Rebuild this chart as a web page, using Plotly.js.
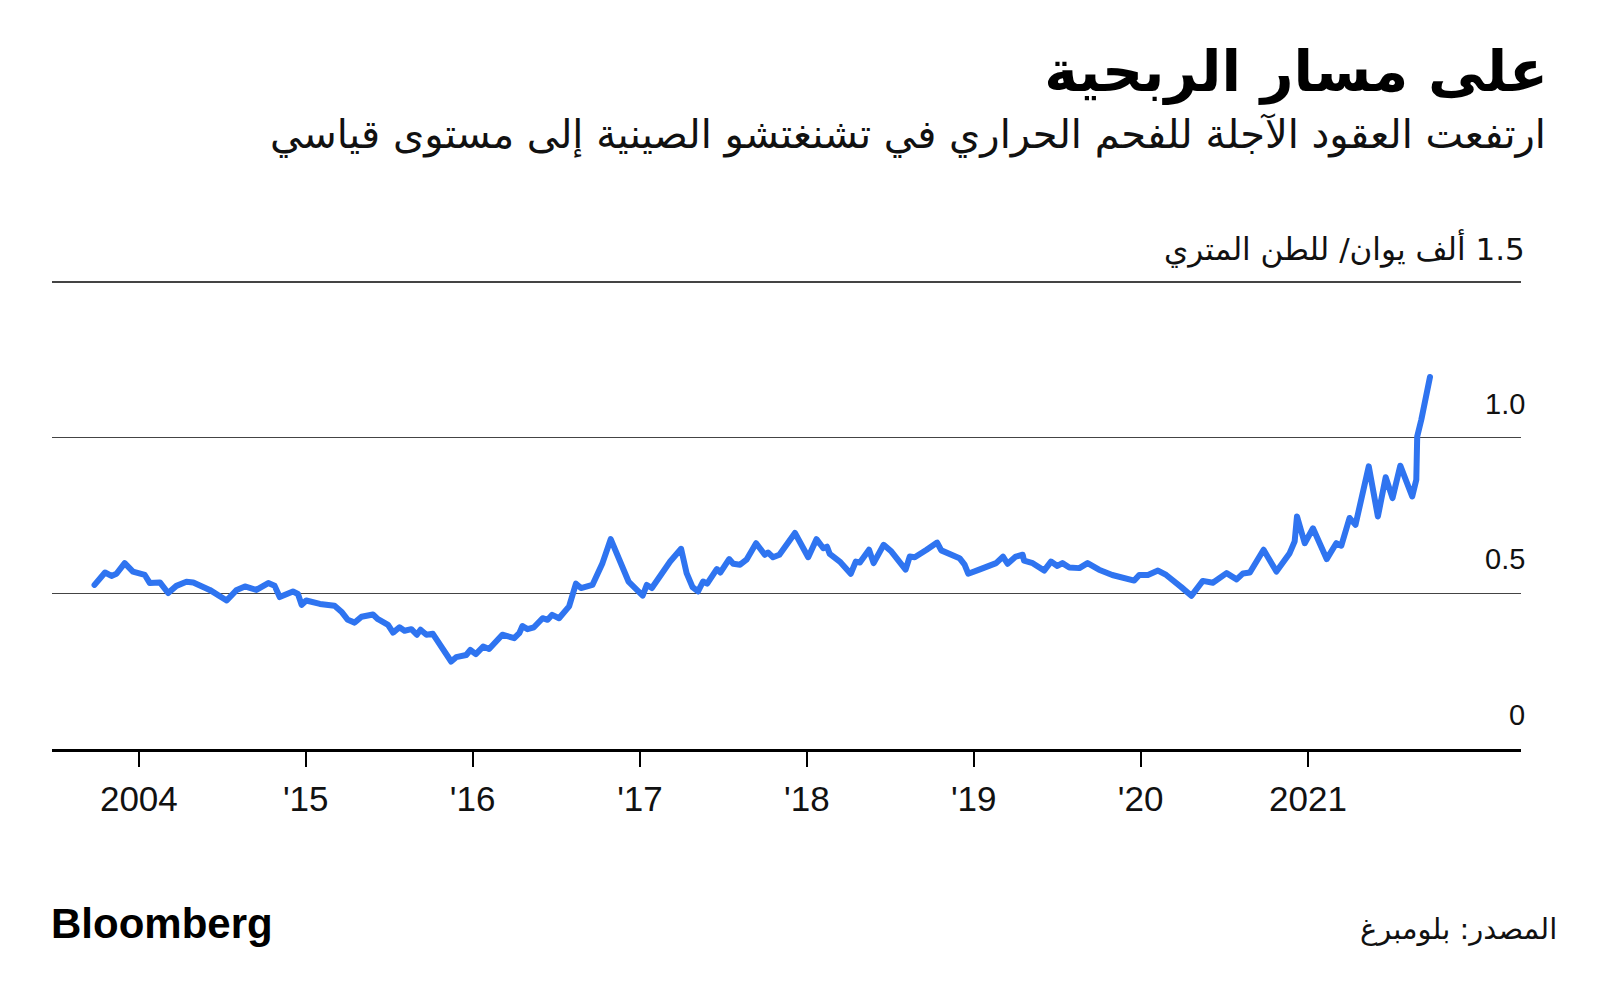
<!DOCTYPE html>
<html>
<head>
<meta charset="utf-8">
<script src="https://cdn.plot.ly/plotly-3.0.1.min.js"></script>
<style>
  html, body { margin: 0; padding: 0; background: #fff; }
  #chart { width: 1600px; height: 1001px; }
  .scatterlayer path.js-line { stroke-linejoin: round; stroke-linecap: round; }
</style>
</head>
<body>
<div id="chart"></div>
<script>
// ---- Data ----
const dates = [
  '2013-09-26','2013-10-19','2013-11-02','2013-11-13','2013-12-01','2013-12-19',
  '2014-01-14','2014-01-25','2014-02-16','2014-03-06','2014-03-24','2014-04-15','2014-04-30','2014-06-05','2014-07-12','2014-08-03','2014-08-21','2014-09-15','2014-10-11','2014-10-25','2014-11-05','2014-12-04','2014-12-15','2014-12-23',
  '2015-01-02','2015-02-01','2015-03-05','2015-03-20','2015-04-03','2015-04-18','2015-05-03','2015-05-28','2015-06-08','2015-06-30','2015-07-11','2015-07-25','2015-08-05','2015-08-20','2015-09-01','2015-09-09','2015-09-22','2015-10-06','2015-11-15','2015-11-26','2015-12-18','2015-12-27',
  '2016-01-08','2016-01-24','2016-02-06','2016-03-06','2016-04-01','2016-04-12','2016-04-19','2016-04-30','2016-05-14','2016-06-02','2016-06-13','2016-06-23','2016-07-08','2016-07-30','2016-08-14','2016-08-25','2016-09-19','2016-10-11','2016-10-29','2016-11-20','2016-12-07',
  '2017-01-07','2017-01-16','2017-01-27','2017-03-08','2017-04-01','2017-04-13','2017-04-26','2017-05-08','2017-05-19','2017-05-28','2017-06-18','2017-06-26','2017-07-15','2017-07-24','2017-08-08','2017-08-22','2017-09-12','2017-10-01','2017-10-08','2017-10-19','2017-11-02','2017-12-06',
  '2018-01-04','2018-01-22','2018-02-06','2018-02-14','2018-02-20','2018-03-14','2018-04-07','2018-04-18','2018-04-27','2018-05-17','2018-05-27','2018-06-18','2018-07-05','2018-08-05','2018-08-14','2018-08-25','2018-09-20','2018-10-13','2018-10-22','2018-11-10','2018-12-01','2018-12-12','2018-12-20',
  '2019-01-13','2019-02-19','2019-03-06','2019-03-16','2019-04-03','2019-04-18','2019-04-21','2019-05-10','2019-06-04','2019-06-19','2019-07-03','2019-07-14','2019-07-29','2019-08-20','2019-09-07','2019-10-02','2019-10-31','2019-12-18','2019-12-29',
  '2020-01-17','2020-02-08','2020-02-26','2020-03-30','2020-04-21','2020-05-16','2020-06-07','2020-07-07','2020-07-29','2020-08-12','2020-08-27','2020-09-26','2020-10-24','2020-11-22','2020-12-03','2020-12-08','2020-12-25',
  '2021-01-12','2021-02-11','2021-03-04','2021-03-15','2021-04-02','2021-04-15','2021-05-14','2021-06-03','2021-06-20','2021-07-05','2021-07-22','2021-08-17','2021-08-26','2021-08-28','2021-09-06','2021-09-25'
];
const prices = [
  0.527,0.567,0.556,0.563,0.597,0.570,
  0.559,0.533,0.535,0.501,0.524,0.537,0.535,0.511,0.477,0.511,0.522,0.511,0.533,0.524,0.488,0.506,0.498,0.463,
  0.477,0.466,0.460,0.441,0.415,0.406,0.425,0.432,0.417,0.399,0.374,0.391,0.380,0.385,0.367,0.383,0.367,0.370,0.281,0.295,0.302,0.318,
  0.305,0.329,0.321,0.367,0.356,0.372,0.395,0.385,0.391,0.420,0.415,0.431,0.420,0.458,0.531,0.517,0.527,0.597,0.674,0.592,0.538,
  0.493,0.527,0.517,0.602,0.643,0.565,0.520,0.506,0.538,0.531,0.578,0.567,0.610,0.595,0.592,0.608,0.661,0.624,0.631,0.616,0.624,0.694,
  0.616,0.674,0.645,0.650,0.627,0.602,0.563,0.602,0.599,0.640,0.597,0.656,0.634,0.576,0.618,0.616,0.640,0.663,0.638,0.627,0.613,0.592,0.563,
  0.576,0.597,0.618,0.595,0.618,0.624,0.605,0.597,0.573,0.602,0.588,0.597,0.583,0.581,0.597,0.576,0.559,0.541,0.559,
  0.559,0.573,0.559,0.520,0.492,0.540,0.534,0.565,0.545,0.564,0.567,0.640,0.570,0.629,0.667,0.747,0.661,
  0.709,0.610,0.661,0.653,0.742,0.720,0.908,0.747,0.873,0.806,0.910,0.811,0.865,1.004,1.058,1.195
];

const xTickVals = ['2014-01-01','2015-01-01','2016-01-01','2017-01-01','2018-01-01','2019-01-01','2020-01-01','2021-01-01'];
const xTickText = ['2004',"'15","'16","'17","'18","'19","'20",'2021'];
const yTickVals = [1.5, 1.0, 0.5, 0];
const yTickText = ['\u200F1.5 ألف يوان/ للطن المتري', '1.0', '0.5', '0'];

const titleText = 'على مسار الربحية';
const subtitleText = 'ارتفعت العقود الآجلة للفحم الحراري في تشنغتشو الصينية إلى مستوى قياسي';
const sourceText = 'المصدر: بلومبرغ';
const logoText = 'Bloomberg';

const arabicFont = '"DejaVu Sans", "Noto Sans", sans-serif';
const numFont = '"Liberation Sans", Arial, sans-serif';

const trace = {
  x: dates,
  y: prices,
  type: 'scatter',
  mode: 'lines',
  line: { color: '#2f74f0', width: 6 },
  hoverinfo: 'skip'
};

const annotations = yTickVals.map((v, i) => ({
  xref: 'paper', yref: 'y', x: 1, y: v,
  xanchor: 'right', yanchor: 'middle',
  xshift: 6, yshift: 34,
  text: yTickText[i], showarrow: false,
  font: { family: i === 0 ? arabicFont : numFont, size: i === 0 ? 31 : 29, color: '#111' }
}));

annotations.push({
  xref: 'paper', yref: 'paper', x: 1, y: 1,
  xanchor: 'right', yanchor: 'middle', xshift: 27, yshift: 136,
  text: subtitleText, showarrow: false,
  font: { family: arabicFont, size: 40, color: '#111' }
});
annotations.push({
  xref: 'paper', yref: 'paper', x: 0, y: 0,
  xanchor: 'left', yanchor: 'middle', xshift: -3, yshift: -174,
  text: '<b>' + logoText + '</b>', showarrow: false,
  font: { family: numFont, size: 42, color: '#000' }
});
annotations.push({
  xref: 'paper', yref: 'paper', x: 1, y: 0,
  xanchor: 'right', yanchor: 'middle', xshift: 38, yshift: -180,
  text: sourceText, showarrow: false,
  font: { family: arabicFont, size: 29, color: '#111' }
});

const layout = {
  width: 1600, height: 1001,
  paper_bgcolor: '#fff', plot_bgcolor: '#fff',
  margin: { l: 52, r: 79, t: 270, b: 252 },
  showlegend: false,
  title: {
    text: '<b>' + titleText + '</b>',
    xref: 'container', yref: 'container',
    x: 1548 / 1600, xanchor: 'right',
    y: 1 - 71 / 1001, yanchor: 'middle',
    font: { family: arabicFont, size: 57, color: '#000' }
  },
  xaxis: {
    type: 'date',
    range: ['2013-06-25', '2022-04-12'],
    tickvals: xTickVals, ticktext: xTickText,
    ticks: 'outside', ticklen: 15, tickwidth: 2, tickcolor: '#000',
    showline: true, linecolor: '#000', linewidth: 3,
    showgrid: false, zeroline: false,
    ticklabelstandoff: 2,
    tickfont: { family: numFont, size: 35, color: '#111' }
  },
  yaxis: {
    range: [0, 1.5386],
    tickvals: [0.5, 1.0, 1.5],
    showticklabels: false,
    showgrid: true, gridcolor: '#444', gridwidth: 1.5,
    zeroline: false, showline: false, ticks: ''
  },
  annotations: annotations
};

Plotly.newPlot('chart', [trace], layout, { staticPlot: true, displayModeBar: false });
</script>
</body>
</html>
